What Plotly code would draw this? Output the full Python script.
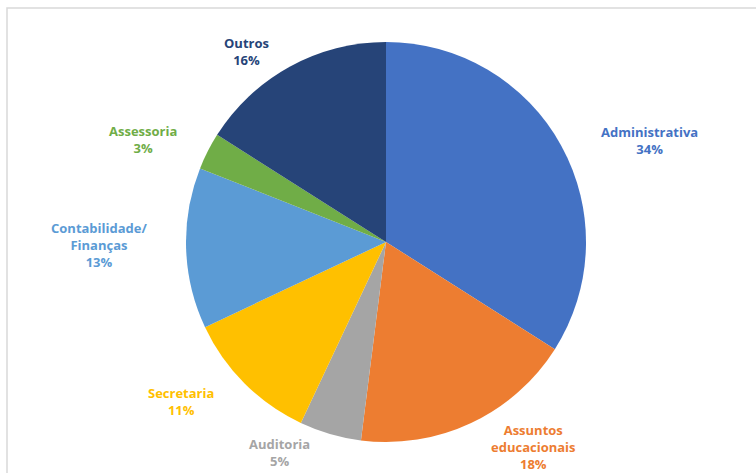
import plotly.graph_objects as go

# Share of staff by area (percent), clockwise from 12 o'clock
areas = ["Administrativa", "Assuntos educacionais", "Auditoria", "Secretaria",
         "Contabilidade/Finanças", "Assessoria", "Outros"]
area_lines = ["Administrativa", "Assuntos<br>educacionais", "Auditoria", "Secretaria",
              "Contabilidade/<br>Finanças", "Assessoria", "Outros"]
shares = [34, 18, 5, 11, 13, 3, 16]
colors = ["#4472C4", "#ED7D31", "#A5A5A5", "#FFC000", "#5B9BD5", "#70AD47", "#264478"]

# Label anchor points (pixels from top-left of the 756x473 canvas)
label_xy = [(649, 140), (533, 447), (279, 452), (181, 401), (99, 245), (143, 139), (246, 51)]

W, H = 756, 473
cx, cy, r = 386, 242, 200

fig = go.Figure(go.Pie(
    labels=areas,
    values=shares,
    sort=False,
    direction="clockwise",
    rotation=0,
    marker=dict(colors=colors, line=dict(width=0)),
    textinfo="none",
    hoverinfo="label+percent",
    showlegend=False,
    domain=dict(x=[(cx - r) / W, (cx + r) / W],
                y=[(H - cy - r) / H, (H - cy + r) / H]),
))

annotations = []
for text, val, col, (x, y) in zip(area_lines, shares, colors, label_xy):
    annotations.append(dict(
        x=x / W, y=1 - y / H, xref="paper", yref="paper",
        text=f"<b>{text}<br>{val}%</b>",
        showarrow=False, align="center",
        xanchor="center", yanchor="middle",
        font=dict(family="Open Sans, Liberation Sans, sans-serif", size=13, color=col),
    ))

fig.update_layout(
    width=W, height=H,
    margin=dict(l=0, r=0, t=0, b=0),
    paper_bgcolor="white",
    plot_bgcolor="white",
    annotations=annotations,
    shapes=[dict(type="rect", xref="paper", yref="paper",
                 x0=7 / W, x1=1.05, y0=-0.05, y1=1 - 8 / H,
                 line=dict(color="#D9D9D9", width=1.5), fillcolor="rgba(0,0,0,0)",
                 layer="below")],
)

fig.write_html("out.html")
